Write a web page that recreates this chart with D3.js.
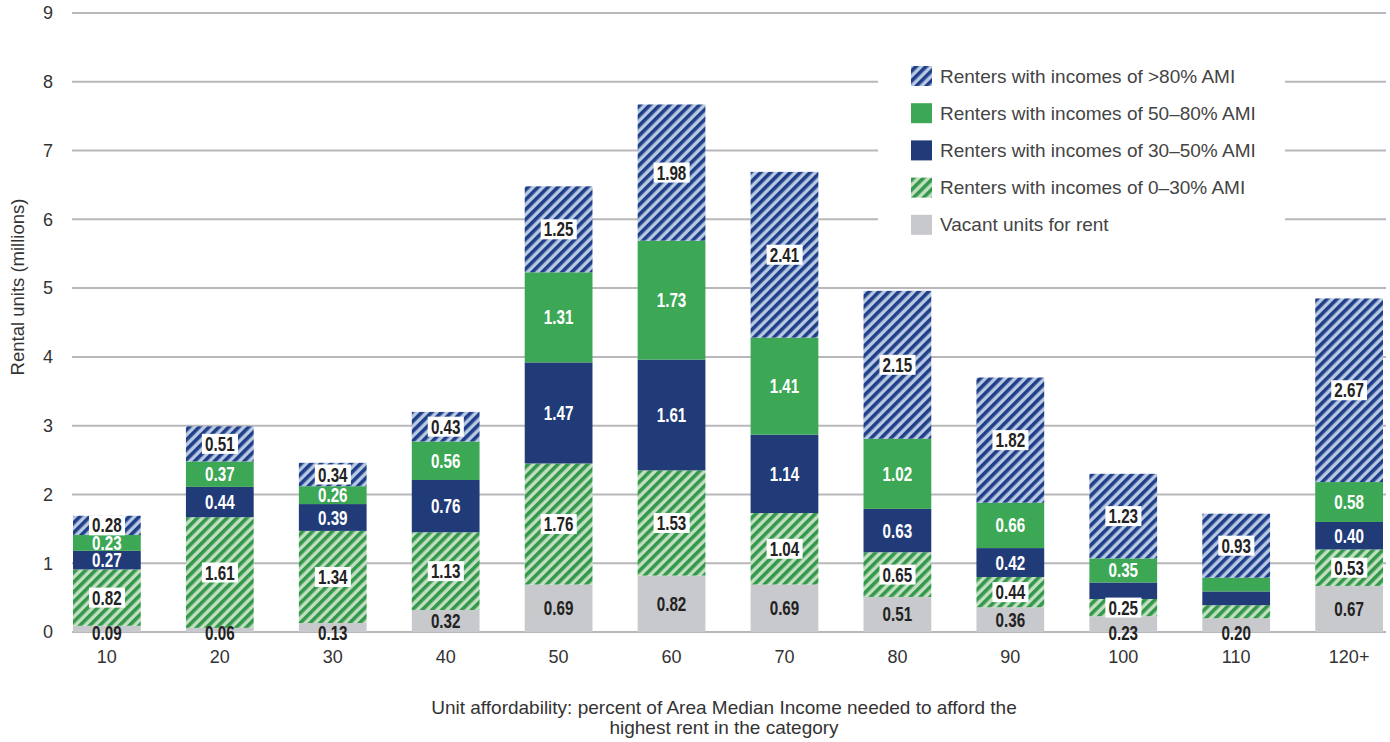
<!DOCTYPE html>
<html>
<head>
<meta charset="utf-8">
<script src="https://cdn.jsdelivr.net/npm/d3@7"></script>
<style>
  body { margin: 0; background: #fff; }
  svg { display: block; }
</style>
</head>
<body>
<svg id="chart" width="1390" height="742"></svg>
<script>
// data
const categories = ["10", "20", "30", "40", "50", "60", "70", "80", "90", "100", "110", "120+"];
const vacant   = [0.09, 0.06, 0.13, 0.32, 0.69, 0.82, 0.69, 0.51, 0.36, 0.23, 0.20, 0.67];
const inc0_30  = [0.82, 1.61, 1.34, 1.13, 1.76, 1.53, 1.04, 0.65, 0.44, 0.25, 0.19, 0.53];
const inc30_50 = [0.27, 0.44, 0.39, 0.76, 1.47, 1.61, 1.14, 0.63, 0.42, 0.24, 0.20, 0.40];
const inc50_80 = [0.23, 0.37, 0.26, 0.56, 1.31, 1.73, 1.41, 1.02, 0.66, 0.35, 0.20, 0.58];
const inc80    = [0.28, 0.51, 0.34, 0.43, 1.25, 1.98, 2.41, 2.15, 1.82, 1.23, 0.93, 2.67];
const yTicks = [0, 1, 2, 3, 4, 5, 6, 7, 8, 9];
// segments drawn without a value label in the original
const unlabeled = [["100", "inc30_50"], ["110", "inc0_30"], ["110", "inc30_50"], ["110", "inc50_80"]];

const series = [
  { key: "vacant",   name: "Vacant units for rent",                 values: vacant,   fill: "#c8c9cc",          label: "plain" },
  { key: "inc0_30",  name: "Renters with incomes of 0–30% AMI",     values: inc0_30,  fill: "url(#hatchGreen)", label: "box" },
  { key: "inc30_50", name: "Renters with incomes of 30–50% AMI",    values: inc30_50, fill: "#213b78",          label: "white" },
  { key: "inc50_80", name: "Renters with incomes of 50–80% AMI",    values: inc50_80, fill: "#3ca754",          label: "white" },
  { key: "inc80",    name: "Renters with incomes of >80% AMI",      values: inc80,    fill: "url(#hatchBlue)",  label: "box" }
];

const svg = d3.select("#chart");
const textFont = "'Liberation Sans', Arial, Helvetica, sans-serif";

// hatch patterns
const defs = svg.append("defs");
function hatch(id, dark, light) {
  const p = defs.append("pattern")
    .attr("id", id)
    .attr("patternUnits", "userSpaceOnUse")
    .attr("width", 7).attr("height", 7)
    .attr("patternTransform", "rotate(45)");
  p.append("rect").attr("width", 7).attr("height", 7).attr("fill", light);
  p.append("rect").attr("width", 3.6).attr("height", 7).attr("fill", dark);
}
hatch("hatchBlue", "#1f3f88", "#b9c8e3");
hatch("hatchGreen", "#33984a", "#c3dfc3");

const x = d3.scaleBand().domain(categories).range([73, 1383]).paddingInner(0.4).paddingOuter(0);
const y = d3.scaleLinear().domain([0, 9]).range([632, 13]);

// gridlines
svg.append("g")
  .selectAll("line")
  .data(yTicks)
  .join("line")
  .attr("x1", 72).attr("x2", 1386)
  .attr("y1", d => y(d)).attr("y2", d => y(d))
  .attr("stroke", "#b8b8bb")
  .attr("stroke-width", 2);

// y tick labels
svg.append("g")
  .selectAll("text")
  .data(yTicks)
  .join("text")
  .attr("x", 53)
  .attr("y", d => y(d))
  .attr("dy", "0.35em")
  .attr("text-anchor", "end")
  .attr("font-family", textFont)
  .attr("font-size", 18)
  .attr("fill", "#333")
  .text(d => d);

// stack
const rows = categories.map((c, i) => {
  const r = { cat: c };
  series.forEach(s => { r[s.key] = s.values[i]; });
  return r;
});
const stack = d3.stack().keys(series.map(s => s.key))(rows);

const bars = svg.append("g");
stack.forEach((layer, li) => {
  bars.append("g")
    .selectAll("rect")
    .data(layer)
    .join("rect")
    .attr("x", d => x(d.data.cat))
    .attr("width", x.bandwidth())
    .attr("y", d => y(d[1]))
    .attr("height", d => y(d[0]) - y(d[1]))
    .attr("fill", series[li].fill);
});

// value labels (condensed bold look: horizontally squeezed)
const labels = svg.append("g");
stack.forEach((layer, li) => {
  const s = series[li];
  layer.forEach(d => {
    const cat = d.data.cat;
    if (unlabeled.some(u => u[0] === cat && u[1] === s.key)) return;
    const v = d.data[s.key];
    const h = y(d[0]) - y(d[1]);
    const cx = x(cat) + x.bandwidth() / 2;
    let cy = (y(d[0]) + y(d[1])) / 2;
    if (s.label === "plain" && h < 20) cy = 633;
    const g = labels.append("g").attr("transform", `translate(${cx},${cy}) scale(0.78,1)`);
    const t = g.append("text")
      .attr("x", 0)
      .attr("y", 0)
      .attr("dy", "0.36em")
      .attr("text-anchor", "middle")
      .attr("font-family", textFont)
      .attr("font-weight", "bold")
      .attr("font-size", 19.5)
      .attr("fill", s.label === "white" ? "#fff" : "#222")
      .text(v.toFixed(2));
    if (s.label === "box") {
      const bb = t.node().getBBox();
      g.insert("rect", "text")
        .attr("x", bb.x - 4)
        .attr("y", -10)
        .attr("width", bb.width + 8)
        .attr("height", 20)
        .attr("fill", "#fff");
    }
  });
});

// x tick labels
svg.append("g")
  .selectAll("text")
  .data(categories)
  .join("text")
  .attr("x", d => x(d) + x.bandwidth() / 2)
  .attr("y", 657)
  .attr("dy", "0.35em")
  .attr("text-anchor", "middle")
  .attr("font-family", textFont)
  .attr("font-size", 18)
  .attr("fill", "#333")
  .text(d => d);

// axis titles
svg.append("text")
  .attr("transform", "translate(18,287) rotate(-90)")
  .attr("dy", "0.35em")
  .attr("text-anchor", "middle")
  .attr("font-family", textFont)
  .attr("font-size", 18.5)
  .attr("fill", "#333")
  .text("Rental units (millions)");

const xTitle = svg.append("text")
  .attr("text-anchor", "middle")
  .attr("font-family", textFont)
  .attr("font-size", 19)
  .attr("fill", "#333");
xTitle.append("tspan").attr("x", 724).attr("y", 714)
  .text("Unit affordability: percent of Area Median Income needed to afford the");
xTitle.append("tspan").attr("x", 724).attr("y", 734)
  .text("highest rent in the category");

// legend
const legend = svg.append("g");
legend.append("rect")
  .attr("x", 878).attr("y", 52)
  .attr("width", 407).attr("height", 192)
  .attr("fill", "#fff");
const legendItems = series.slice().reverse();
legendItems.forEach((s, i) => {
  const cy = 76 + i * 37.2;
  legend.append("rect")
    .attr("x", 911).attr("y", cy - 10)
    .attr("width", 21).attr("height", 20)
    .attr("fill", s.fill);
  legend.append("text")
    .attr("x", 940).attr("y", cy)
    .attr("dy", "0.35em")
    .attr("font-family", textFont)
    .attr("font-size", 19)
    .attr("fill", "#444")
    .text(s.name);
});
</script>
</body>
</html>
